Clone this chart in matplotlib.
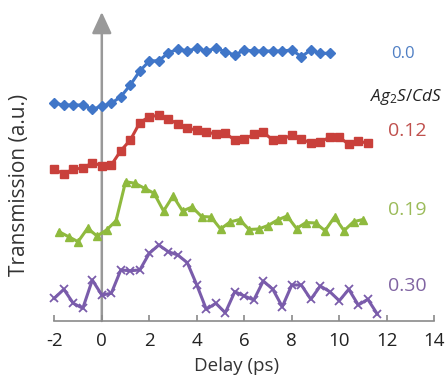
import numpy as np
import matplotlib
matplotlib.use("Agg")
import matplotlib.pyplot as plt

plt.rcParams['font.family'] = ['Open Sans', 'DejaVu Sans']
plt.rcParams['mathtext.fontset'] = 'custom'
plt.rcParams['mathtext.it'] = 'Open Sans:italic'
plt.rcParams['mathtext.rm'] = 'Open Sans'

# Delay values (ps)
delay_a = np.round(np.arange(34) * 0.4 - 2.0, 2)      # starts at -2.0 ps
delay_green = np.round(np.arange(33) * 0.4 - 1.8, 2)  # starts at -1.8 ps
delay_purple = np.round(np.arange(35) * 0.4 - 2.0, 2)

# Transmission (a.u., vertically offset traces)
trans_00 = [217.7, 216, 216, 216, 211.7, 215, 217.7, 224.3, 236, 250, 260, 260.3,
            268, 272, 270, 272.7, 270, 272.7, 269.3, 266, 271, 270, 270, 270,
            270, 271, 264.3, 271, 267.7, 267.7]
trans_012 = [151.7, 147, 152, 152.7, 158.3, 155.3, 156, 170.3, 181, 198.3, 204.3,
             205.7, 202, 197, 192.7, 191, 189.3, 186.7, 187.7, 181, 181.7, 186.7,
             188.7, 181, 181.7, 186, 181.7, 178.3, 179.3, 183.7, 183.7, 176.7, 180, 177.7]
trans_019 = [89.3, 84.3, 79.3, 92.7, 85, 91, 100.3, 139.3, 137.7, 132.7, 127.7, 110,
             125, 110, 114, 104.5, 104, 92, 99, 101.5, 91.5, 92, 95.5, 101, 105,
             92.5, 98.5, 98, 90.3, 104, 90.3, 99.3, 101.5]
trans_030 = [22.7, 31.7, 17.7, 12.7, 41, 26, 27.7, 51, 50.3, 51, 67.7, 76, 69.3, 66,
             58.3, 36, 11.7, 17.7, 8.3, 29.3, 25, 21, 40, 31.7, 14.3, 36, 36, 21.7,
             35, 29.3, 20.3, 31.7, 16, 21.7, 7]

labels = ['0.0', '0.12', '0.19', '0.30']
xticks = [-2, 0, 2, 4, 6, 8, 10, 12, 14]

c_blue, c_red, c_green, c_purple = '#4076C8', '#C9403B', '#8FBA3E', '#7A5CAB'
lc_blue, lc_red, lc_green, lc_purple = '#4F7FC4', '#C0504D', '#9BBB59', '#8064A2'

fig = plt.figure(figsize=(4.47, 3.77), dpi=100)
ax = fig.add_axes([54.3 / 447, 56 / 377, 380 / 447, 316 / 377])
ax.set_xlim(-2, 14)
ax.set_ylim(0, 316)

ax.annotate('', xy=(0, 309), xytext=(0, 0),
            arrowprops=dict(arrowstyle='-|>,head_length=1.3,head_width=0.6',
                            color='#999999', lw=1.8, mutation_scale=10,
                            shrinkA=0, shrinkB=0), zorder=1)

ax.plot(delay_a[:len(trans_00)], trans_00, color=c_blue, lw=2.2, marker='D',
        ms=4.8, mec=c_blue, mfc=c_blue, clip_on=False, zorder=3)
ax.plot(delay_a[:len(trans_012)], trans_012, color=c_red, lw=2.2, marker='s',
        ms=5.3, mec=c_red, mfc=c_red, clip_on=False, zorder=3)
ax.plot(delay_green, trans_019, color=c_green, lw=2.2, marker='^',
        ms=5.8, mec=c_green, mfc=c_green, clip_on=False, zorder=3)
ax.plot(delay_purple, trans_030, color=c_purple, lw=2.2, marker='x',
        ms=6, mew=1.3, mec=c_purple, clip_on=False, zorder=3)

for s in ['left', 'top', 'right']:
    ax.spines[s].set_visible(False)
ax.spines['bottom'].set_color('#8a8a8a')
ax.spines['bottom'].set_linewidth(1.2)
ax.set_yticks([])
ax.set_xticks(xticks)
ax.set_xticklabels([str(t) for t in xticks])
ax.tick_params(axis='x', direction='in', length=4, width=1.2, color='#8a8a8a',
               labelsize=13.5, labelcolor='#222222', pad=8)
ax.set_xlabel('Delay (ps)', fontsize=13.5, color='#333333', labelpad=1)
ax.xaxis.set_label_coords((237 - 54.3) / 380, -36 / 316)

fig.text(20 / 447, 1 - 185 / 377, 'Transmission (a.u.)', rotation=90,
         ha='center', va='center', fontsize=15, color='#333333')

ax.text(12.2, 267, labels[0], color=lc_blue, fontsize=12, ha='left', va='center')
ax.text(11.3, 224, r'$Ag_2S/CdS$', color='#222222', fontsize=12.3, ha='left', va='center')
ax.text(12.05, 190, labels[1], color=lc_red, fontsize=14, ha='left', va='center')
ax.text(12.05, 111, labels[2], color=lc_green, fontsize=14, ha='left', va='center')
ax.text(12.05, 35, labels[3], color=lc_purple, fontsize=14, ha='left', va='center')

fig.savefig('out.png', dpi=100)
